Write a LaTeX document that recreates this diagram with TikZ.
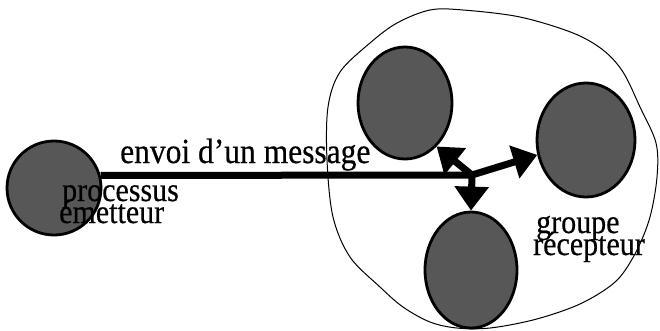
\documentclass[tikz,border=0pt]{standalone}
\usepackage{graphicx}
\usepackage{fontspec}
\setmainfont{Liberation Serif}
\newfontfamily\lblfont[FakeBold=0.5]{Liberation Serif}
\usetikzlibrary{shapes.geometric,arrows.meta}
\newcommand{\talltext}[1]{\scalebox{1}[1.12]{#1}}
\tikzset{
  proc/.style={ellipse, draw=black, line width=2.8pt, fill=black!66, inner sep=0pt},
  lbl/.style={anchor=base west, inner sep=0pt, font=\lblfont\fontsize{30}{30}\selectfont},
  msg/.style={line width=7pt},
  branch/.style={line width=7pt, -{Triangle[width=33pt,length=24pt]}},
  grp/.style={line width=1pt}
}
\begin{document}
\begin{tikzpicture}[x=1pt,y=-1pt]
\useasboundingbox (0,0) rectangle (660,330);
% group boundary
\draw[grp] plot[smooth cycle, tension=0.55] coordinates {
 (637,250) (620,277) (600,293) (573,307) (533,320) (490,328) (457,328)
 (430,322) (403,307) (380,287) (350,257) (333,217) (327,160) (328,107)
 (340,72) (370,43) (397,23) (430,10) (463,10) (520,17) (573,33) (603,50)
 (623,72) (640,107) (656,143) (657,177) (650,217)};
% processes
\node[proc, minimum width=94pt, minimum height=94pt] (s) at (54,188) {};
\node[proc, minimum width=94pt, minimum height=112pt] (u) at (405,103) {};
\node[proc, minimum width=98pt, minimum height=114pt] (r) at (586,140) {};
\node[proc, minimum width=92pt, minimum height=116pt] (b) at (471,270) {};
% message
\coordinate (j) at (472,175);
\draw[msg] (s.15) -- (j);
\draw[branch] (j) -- (b.north);
\draw[branch] (j) -- (u.-54);
\draw[branch] (j) -- (r.197);
% labels
\node[lbl, font=\lblfont\fontsize{31.5}{31.5}\selectfont] (t1) at (120,163) {\talltext{envoi d’un message}};
\node[lbl] (t2) at (62,201) {\talltext{processus}};
\node[lbl] (t3) at (59,223) {\talltext{émetteur}};
\node[lbl] (t4) at (536,233) {\talltext{groupe}};
\node[lbl] (t5) at (533,255) {\talltext{récepteur}};
\end{tikzpicture}
\end{document}
